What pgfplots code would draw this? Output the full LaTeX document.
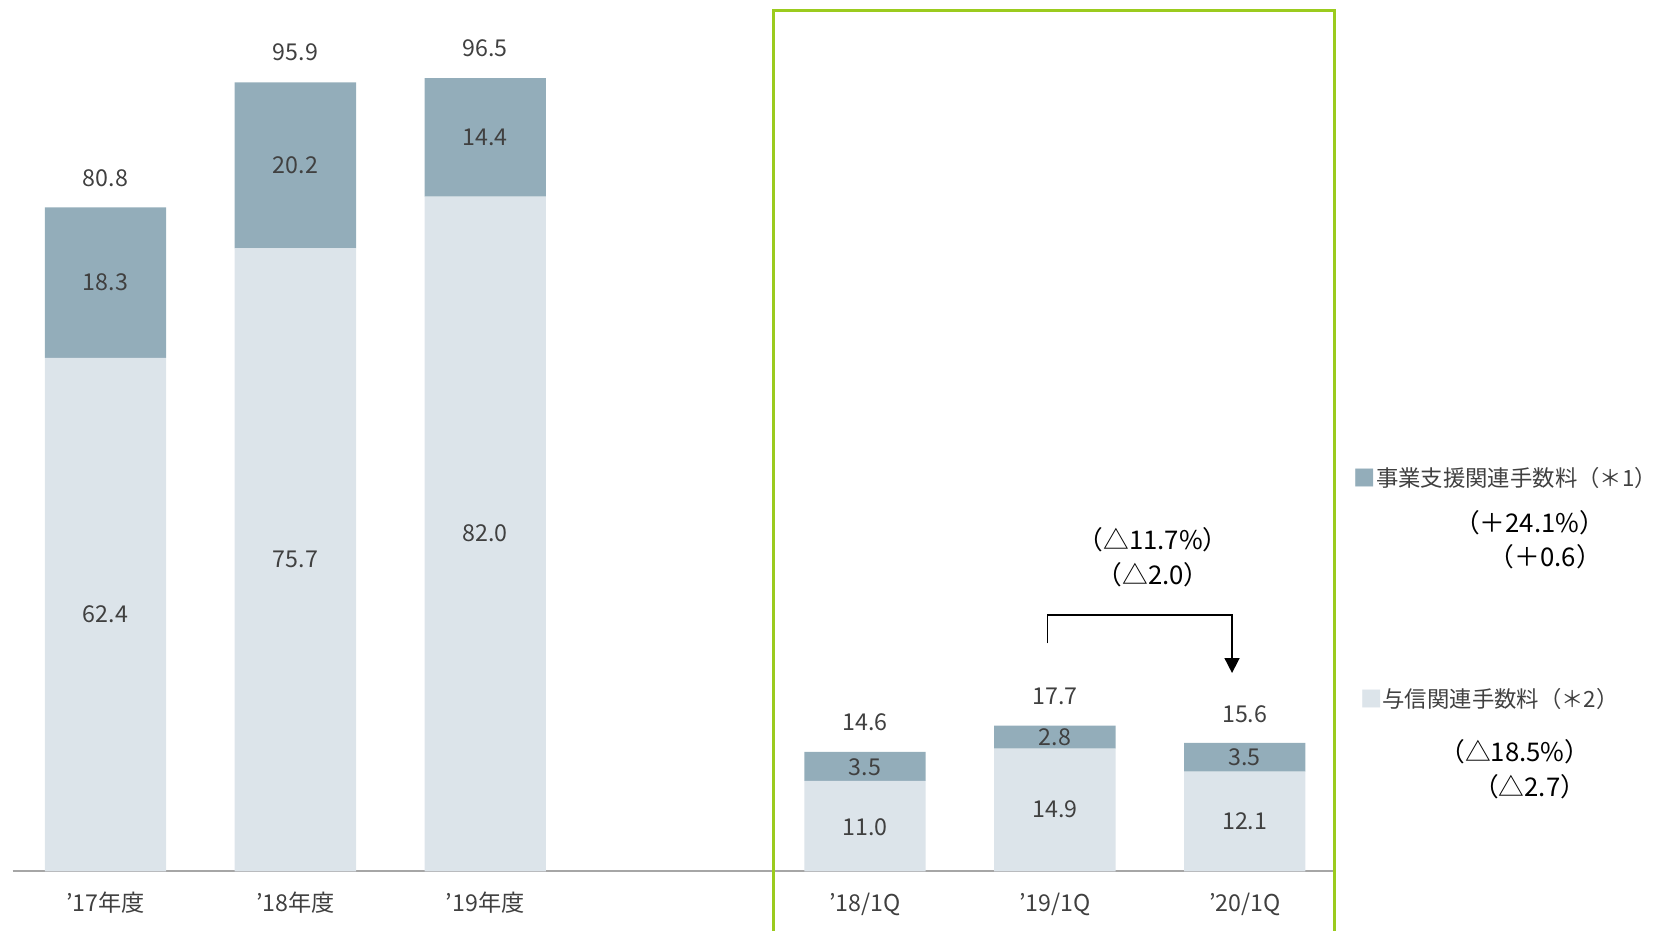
\documentclass[border=0pt]{standalone}
\usepackage{pgfplots}
\pgfplotsset{compat=1.18}
\usepackage{fontspec}
\setmainfont{Noto Sans CJK JP}
\usetikzlibrary{arrows.meta}
\definecolor{darkc}{HTML}{93ADBA}
\definecolor{lightc}{HTML}{DCE4EA}
\definecolor{greenbox}{HTML}{9BCB1E}
\definecolor{txt}{HTML}{404040}
\begin{document}
\begin{tikzpicture}[font=\fontsize{11}{13}\selectfont]
\useasboundingbox (0,0) rectangle (784pt,441pt);
\pgfplotsset{common/.style={
  scale only axis, width=626.5pt, height=413pt,
  xmin=-0.489, xmax=6.472, ymin=0, ymax=105.9,
  at={(6pt,28pt)}, anchor=south west, clip=false}}
\begin{axis}[common, ybar stacked, bar width=57.5pt,
  axis y line=none, axis x line=bottom,
  x axis line style={-, draw=black!35, line width=0.8pt},
  xtick={0,1,2,4,5,6},
  xticklabels={’17年度,’18年度,’19年度,’18/1Q,’19/1Q,’20/1Q},
  major tick length=0pt,
  xticklabel style={anchor=base, yshift=-19pt, text=txt, font=\fontsize{11}{13}\selectfont}]
\addplot[fill=lightc, draw=none] coordinates {(0,62.4) (1,75.7) (2,82.0) (4,11.0) (5,14.9) (6,12.1)};
\addplot[fill=darkc, draw=none] coordinates {(0,18.3) (1,20.2) (2,14.4) (4,3.5) (5,2.8) (6,3.5)};
\end{axis}
\begin{axis}[common, hide axis]
\addplot[draw=none, mark=none, nodes near coords, point meta=explicit symbolic,
  every node near coord/.append style={anchor=center, text=txt, font=\fontsize{11}{13}\selectfont}]
  table[meta=l] {
x y l
0 31.3 62.4
1 37.9 75.7
2 41.1 82.0
4 5.3 11.0
5 7.5 14.9
6 6.1 12.1
0 71.6 18.3
1 85.8 20.2
2 89.2 14.4
4 12.7 3.5
5 16.3 2.8
6 13.9 3.5
0 84.2 80.8
1 99.5 95.9
2 100.0 96.5
4 18.1 14.6
5 21.2 17.7
6 19.1 15.6
};
% green box
\draw[greenbox, line width=1.5pt] (axis cs:3.517,-7.3) -- (axis cs:3.517,104.6) -- (axis cs:6.472,104.6) -- (axis cs:6.472,-7.3);
% bracket arrow
\draw[black, line width=0.75pt, -{Triangle[width=7pt,length=7pt]}]
  (axis cs:4.961,27.7) -- (axis cs:4.961,31.15) -- (axis cs:5.933,31.15) -- (axis cs:5.933,24.1);
\begin{scope}[every node/.style={font=\fontsize{12.2}{14}\selectfont, anchor=center}]
\node at (axis cs:5.517,40.3) {（△11.7\%）};
\node at (axis cs:5.517,36.0) {（△2.0）};
\node at (axis cs:7.5,42.4) {（＋24.1\%）};
\node at (axis cs:7.583,38.2) {（＋0.6）};
\node at (axis cs:7.422,14.5) {（△18.5\%）};
\node at (axis cs:7.5,10.3) {（△2.7）};
\end{scope}
% legend
\node[anchor=west, text=txt, inner sep=0pt, font=\fontsize{10.6}{13}\selectfont] at (axis cs:6.572,47.8) {{\color{darkc}■}事業支援関連手数料（＊1）};
\node[anchor=west, text=txt, inner sep=0pt, font=\fontsize{10.6}{13}\selectfont] at (axis cs:6.606,21.0) {{\color{lightc}■}与信関連手数料（＊2）};
\end{axis}
\end{tikzpicture}
\end{document}
